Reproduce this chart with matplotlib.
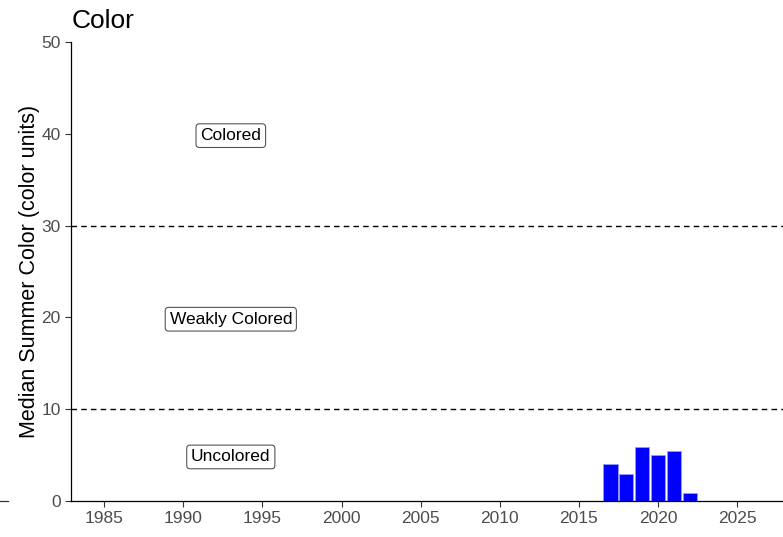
import matplotlib
matplotlib.use("Agg")
import matplotlib.pyplot as plt
from matplotlib.lines import Line2D

years = [2017, 2018, 2019, 2020, 2021, 2022]
color_values = [4.0, 2.9, 5.9, 5.0, 5.4, 0.9]
thresholds = [10, 30]
label_texts = ["Colored", "Weakly Colored", "Uncolored"]
label_y = [40, 20, 5]
label_x = 1993
xticks = [1985, 1990, 1995, 2000, 2005, 2010, 2015, 2020, 2025]
yticks = [0, 10, 20, 30, 40, 50]

plt.rcParams['font.family'] = ['Liberation Sans', 'DejaVu Sans']

fig = plt.figure(figsize=(7.83, 5.37), dpi=100)
ax = fig.add_axes([71/783, 1 - 501/537, (783-71)/783, (501-42)/537])

ax.bar(years, color_values, width=0.9, color='#0000FF', edgecolor='#9999FF', linewidth=0.6, zorder=2)
for t in thresholds:
    ax.axhline(t, color='black', linestyle=(0, (4, 3)), linewidth=1.0, zorder=1)

for txt, yv in zip(label_texts, label_y):
    ax.text(label_x, yv - 0.2, txt, ha='center', va='center', fontsize=12.5, color='black',
            bbox=dict(boxstyle='round,pad=0.25,rounding_size=0.2', fc='white', ec='#555555', lw=0.8), zorder=3)

ax.set_xlim(1982.9, 2027.9)
ax.set_ylim(0, 50)
ax.set_xticks(xticks)
ax.set_yticks(yticks)
ax.tick_params(axis='both', labelsize=12.5, labelcolor='#4D4D4D', color='#333333', length=4, width=0.8)
for s in ['top', 'right']:
    ax.spines[s].set_visible(False)
for s in ['left', 'bottom']:
    ax.spines[s].set_color('black')
    ax.spines[s].set_linewidth(0.9)
ax.set_ylabel("Median Summer Color (color units)", fontsize=15.5, color='black', labelpad=1)
ax.set_title("Color", loc='left', fontsize=19, color='black', pad=10, x=0.001)

fig.add_artist(Line2D([0, 8/783], [1 - 501/537, 1 - 501/537], color='#333333', lw=0.9, transform=fig.transFigure))

fig.savefig("out.png", dpi=100)
